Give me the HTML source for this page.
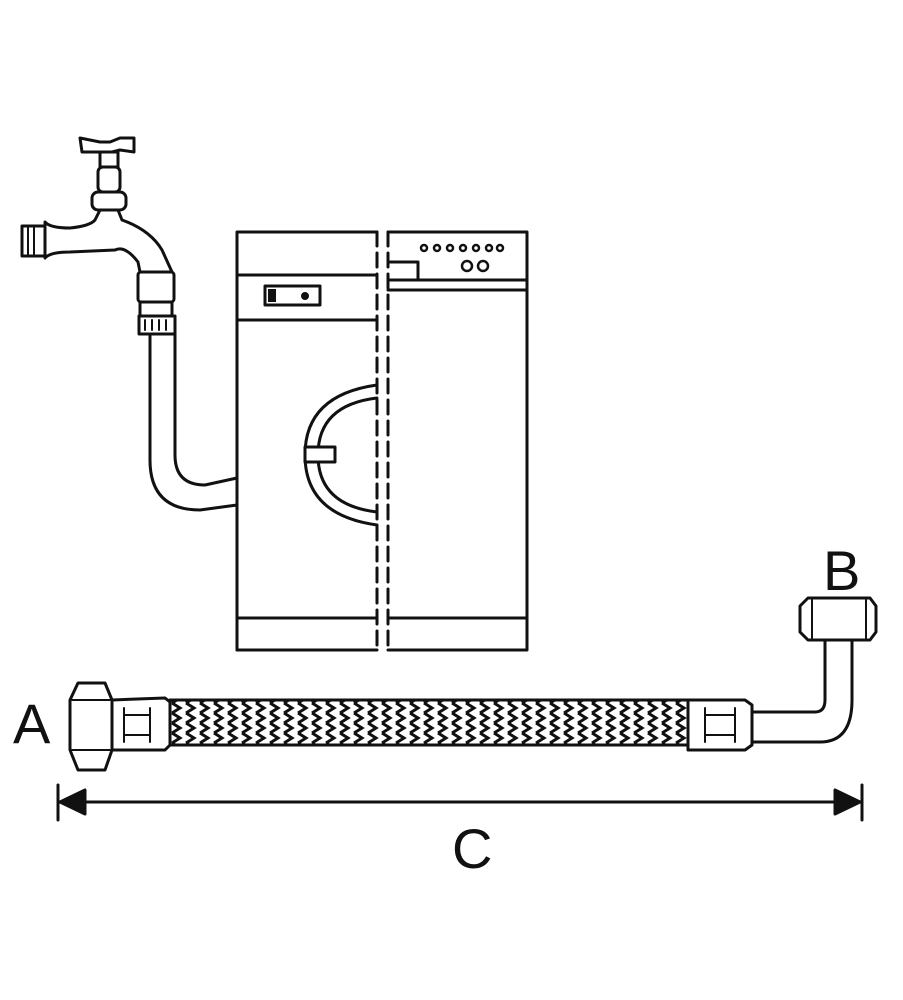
<!DOCTYPE html>
<html><head><style>html,body{margin:0;padding:0;background:#fff}svg{display:block}</style></head>
<body>
<svg width="903" height="1000" viewBox="0 0 903 1000" xmlns="http://www.w3.org/2000/svg">
<defs>
<pattern id="braid" x="170" y="703" width="14" height="10" patternUnits="userSpaceOnUse">
<path d="M2,0 L10,5 L2,10" stroke="#111" stroke-width="3" fill="none"/>
</pattern>
</defs>
<g fill="none" stroke="#111" stroke-width="3" stroke-linejoin="round" stroke-linecap="round">
<!-- faucet handle -->
<path d="M80,138 L100,142 L110,142 L120,138 L134,138 L134,152 L120,150 L112,152 L100,152 L82,152 Z" fill="#fff"/>
<rect x="100" y="152" width="18" height="15" fill="#fff"/>
<rect x="98" y="167" width="22" height="25" rx="5" fill="#fff"/>
<rect x="92" y="192" width="34" height="18" rx="6" fill="#fff"/>
<!-- spout body -->
<path d="M45,222 Q50,228 70,228 Q90,226 95,220 L100,210 L118,210 L122,220 Q150,230 162,250 L172,272 L140,272 L138,262 Q125,245 115,250 L70,252 Q50,252 45,258 Z" fill="#fff"/>
<rect x="22" y="226" width="23" height="30" fill="#fff"/>
<path d="M28,228 L28,254 M34,228 L34,254" stroke-width="2"/>
<!-- nut on faucet -->
<rect x="138" y="272" width="36" height="30" rx="3" fill="#fff"/>
<rect x="140" y="302" width="32" height="14" fill="#fff"/>
<rect x="139" y="316" width="36" height="18" fill="#fff"/>
<path d="M145,320 L145,330 M152,320 L152,330 M159,320 L159,330 M166,320 L166,330" stroke-width="2"/>
<!-- hose from faucet -->
<path d="M150,335 L150,460 Q150,510 200,510 L237,505"/>
<path d="M175,335 L175,455 Q175,485 205,485 L237,478"/>
<!-- washing machine -->
<path d="M237,650 L237,232 L377,232"/>
<path d="M237,618 L377,618 M237,650 L377,650"/>
<path d="M237,275 L377,275 M237,320 L377,320"/>
<rect x="265" y="286" width="55" height="19" fill="#fff"/>
<rect x="268" y="289" width="8" height="13" fill="#111" stroke="none"/>
<circle cx="305" cy="296" r="2.5" fill="#111"/>
<path d="M377,385 Q305,395 305,455 Q305,515 377,525"/>
<path d="M377,398 Q318,405 318,455 Q318,505 377,512"/>
<rect x="305" y="447" width="30" height="15" fill="#fff"/>
<!-- dashed -->
<path d="M377,232 L377,650 M388,232 L388,650" stroke-dasharray="14,7"/>
<!-- dishwasher -->
<path d="M388,232 L527,232 L527,650 L388,650"/>
<path d="M388,280 L527,280 M388,290 L527,290 M388,618 L527,618"/>
<path d="M390,262 L418,262 L418,280"/>
<g stroke-width="2.5">
<circle cx="424" cy="248" r="3"/><circle cx="437" cy="248" r="3"/><circle cx="450" cy="248" r="3"/><circle cx="463" cy="248" r="3"/><circle cx="476" cy="248" r="3"/><circle cx="489" cy="248" r="3"/><circle cx="500" cy="248" r="3"/>
<circle cx="467" cy="266" r="5"/><circle cx="483" cy="266" r="5"/>
</g>
<!-- bottom hose -->
<path d="M78,683 L105,683 L112,700 L112,750 L105,770 L78,770 L70,750 L70,700 Z" fill="#fff"/>
<path d="M72,700 L110,700 M72,750 L110,750" stroke-width="2"/>
<path d="M112,700 L165,698 L170,702 L170,745 L165,750 L112,750 Z" fill="#fff"/>
<path d="M124,708 L124,742 M150,708 L150,742 M124,715 L150,715 M124,735 L150,735" stroke-width="2"/>
<rect x="170" y="700" width="518" height="45" fill="url(#braid)"/>
<rect x="170" y="700" width="518" height="45"/>
<path d="M688,700 L745,700 L752,705 L752,745 L745,750 L688,750 Z" fill="#fff"/>
<path d="M705,708 L705,742 M735,708 L735,742 M705,715 L735,715 M705,735 L735,735" stroke-width="2"/>
<path d="M752,712 L815,712 Q825,712 825,700 L825,640"/>
<path d="M752,742 L820,742 Q852,742 852,700 L852,640"/>
<path d="M808,598 L870,598 L876,606 L876,632 L870,640 L808,640 L800,632 L800,606 Z" fill="#fff"/>
<path d="M812,600 L812,638 M866,600 L866,638" stroke-width="2"/>
<!-- dimension -->
<path d="M58,785 L58,820 M862,785 L862,820 M60,802 L860,802"/>
<path d="M60,802 L85,790 L85,814 Z M860,802 L835,790 L835,814 Z" fill="#111"/>
</g>
<g font-family="Liberation Sans, sans-serif" font-size="56" fill="#111">
<text x="13" y="743">A</text>
<text x="823" y="590">B</text>
<text x="452" y="868">C</text>
</g>
</svg>
</body></html>
